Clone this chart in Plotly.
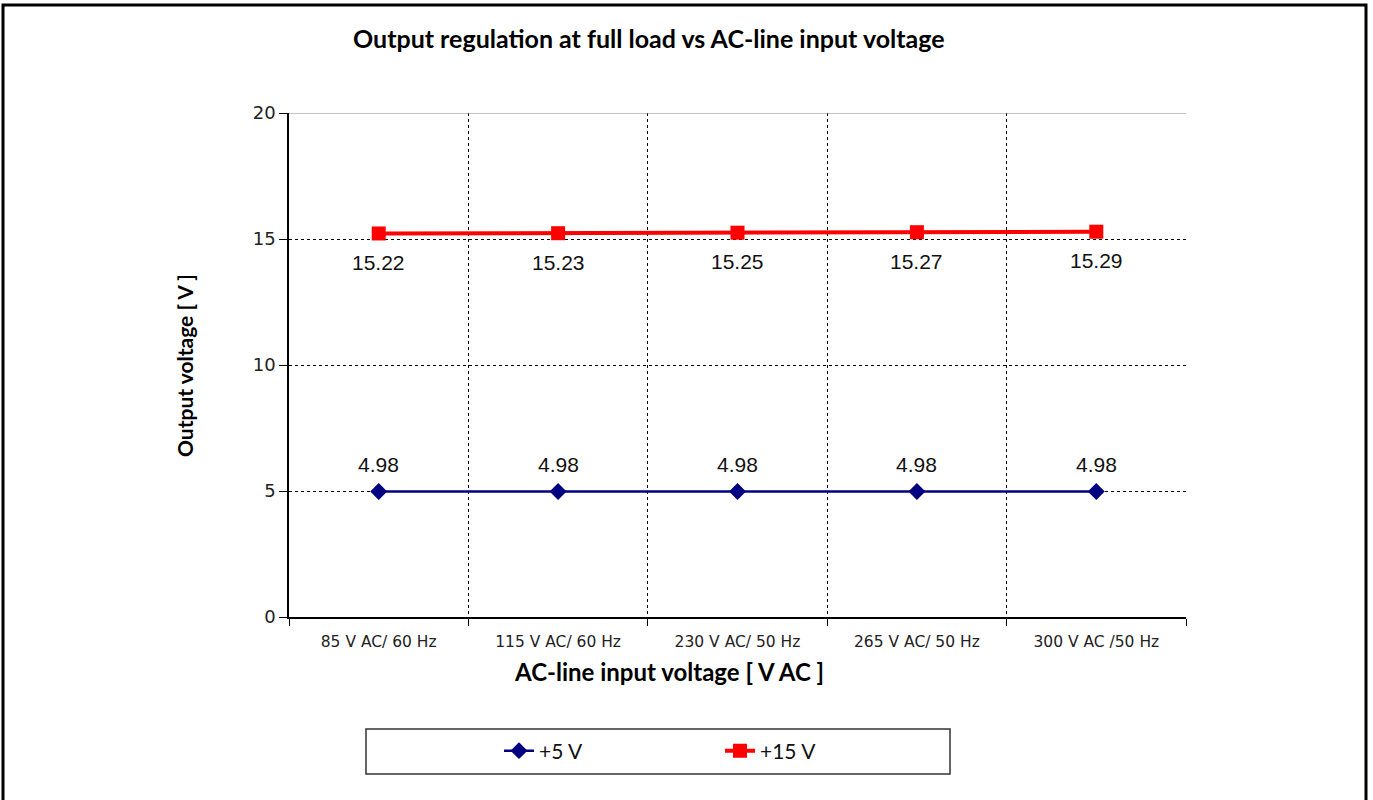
import plotly.graph_objects as go

# category labels and measured output voltages
categories = ["85 V AC/ 60 Hz", "115 V AC/ 60 Hz", "230 V AC/ 50 Hz", "265 V AC/ 50 Hz", "300 V AC /50 Hz"]
v5_out = [4.98, 4.98, 4.98, 4.98, 4.98]
v15_out = [15.22, 15.23, 15.25, 15.27, 15.29]
y_ticks = [0, 5, 10, 15, 20]

W, H = 1373, 800
L, R, T, B = 289, 1186, 113, 617


def px_x(p):
    return (p - L) / (R - L)


def px_y(p):
    return (B - p) / (B - T)


fig = go.Figure()

fig.add_trace(go.Scatter(
    x=categories, y=v5_out, name="+5 V",
    mode="lines+markers",
    line=dict(color="#000080", width=2.5),
    marker=dict(symbol="diamond", size=13, color="#000080"),
))

fig.add_trace(go.Scatter(
    x=categories, y=v15_out, name="+15 V",
    mode="lines+markers",
    line=dict(color="#ff0000", width=4),
    marker=dict(symbol="square", size=14, color="#ff0000"),
))

shapes = [
    # outer frame
    dict(type="rect", xref="paper", yref="paper",
         x0=px_x(3), x1=px_x(1366), y0=px_y(830), y1=px_y(5),
         line=dict(color="black", width=3)),
    # legend box
    dict(type="rect", xref="paper", yref="paper",
         x0=px_x(366), x1=px_x(950), y0=px_y(774), y1=px_y(729),
         line=dict(color="#333333", width=1.5)),
    # top edge
    dict(type="line", xref="paper", yref="y",
         x0=0, x1=1, y0=20, y1=20,
         line=dict(color="#888888", width=1)),
]

label_font = dict(family="Liberation Sans", size=21, color="#111111")
annotations = []
for c, v in zip(categories, v5_out):
    annotations.append(dict(x=c, y=v, text=f"{v:.2f}", showarrow=False,
                            yshift=27, font=label_font))
for c, v in zip(categories, v15_out):
    annotations.append(dict(x=c, y=v, text=f"{v:.2f}", showarrow=False,
                            yshift=-29, font=label_font))

annotations += [
    dict(text="<b>Output regulation at full load vs AC-line input voltage</b>",
         xref="paper", yref="paper", x=px_x(649), y=px_y(38),
         showarrow=False, xanchor="center", yanchor="middle",
         font=dict(family="Lato", size=25, color="black")),
    dict(text="<b>AC-line input voltage [ V AC ]</b>",
         xref="paper", yref="paper", x=px_x(669), y=px_y(671),
         showarrow=False, xanchor="center", yanchor="middle",
         font=dict(family="Lato", size=24, color="black")),
    dict(text="<b>Output voltage [ V ]</b>", textangle=-90,
         xref="paper", yref="paper", x=px_x(184), y=px_y(366),
         showarrow=False, xanchor="center", yanchor="middle",
         font=dict(family="Lato", size=21, color="black")),
]

fig.update_layout(
    width=W, height=H,
    margin=dict(l=L, r=W - R, t=T, b=H - B),
    plot_bgcolor="white",
    paper_bgcolor="white",
    shapes=shapes,
    annotations=annotations,
    xaxis=dict(
        type="category",
        tickson="boundaries",
        showgrid=True, gridcolor="black", griddash="dot", gridwidth=1,
        showline=True, linecolor="black", linewidth=1.5,
        ticks="outside", ticklen=7, tickcolor="black",
        ticklabelstandoff=10,
        tickfont=dict(family="DejaVu Sans", size=15.5, color="#222222"),
        range=[-0.5, 4.5],
    ),
    yaxis=dict(
        range=[0, 20], tickvals=y_ticks,
        showgrid=True, gridcolor="black", griddash="dot", gridwidth=1,
        zeroline=False,
        showline=True, linecolor="black", linewidth=1.5,
        ticks="outside", ticklen=8, tickcolor="black",
        tickfont=dict(family="DejaVu Sans", size=18, color="#222222"),
    ),
    legend=dict(
        orientation="h", x=px_x(499), y=px_y(751),
        xanchor="left", yanchor="middle",
        font=dict(family="Lato", size=21, color="#111111"),
        entrywidth=176, bgcolor="rgba(0,0,0,0)",
    ),
)

fig.write_html("out.html", config={"displayModeBar": False},
               post_script="document.body.style.margin='0';")
